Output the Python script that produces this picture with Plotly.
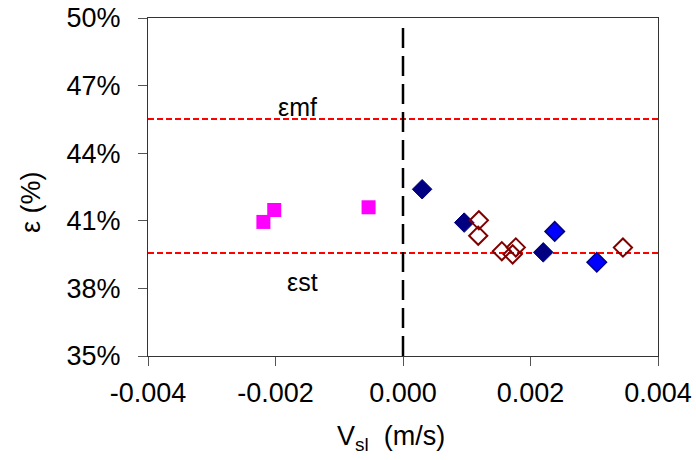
import plotly.graph_objects as go

# ---- data ----
x_tick_vals = [-0.004, -0.002, 0.000, 0.002, 0.004]
x_tick_text = ["-0.004", "-0.002", "0.000", "0.002", "0.004"]
y_tick_vals = [35, 38, 41, 44, 47, 50]
y_tick_text = ["35%", "38%", "41%", "44%", "47%", "50%"]

sq_x = [-0.00219, -0.00202, -0.00054]
sq_y = [40.95, 41.48, 41.60]

navy_x = [0.00030, 0.00096, 0.00220]
navy_y = [42.40, 40.92, 39.60]

blue_x = [0.00238, 0.00304]
blue_y = [40.53, 39.16]

open_x = [0.00119, 0.00118, 0.00155, 0.00177, 0.00172, 0.00345]
open_y = [41.02, 40.34, 39.65, 39.82, 39.51, 39.81]

eps_mf = 45.52
eps_st = 39.57
line_x = [-0.004, 0.004]
zero_x = [0, 0]
zero_y = [35, 49.6]

label_mf = ("εmf", -0.00165, 46.05)
label_st = ("εst", -0.00158, 38.28)
x_title = "V<sub>sl</sub>  (m/s)"
y_title = "ε (%)"

FONT = "Liberation Sans, Arial, sans-serif"

fig = go.Figure()

fig.add_trace(go.Scatter(x=line_x, y=[eps_mf, eps_mf], mode="lines",
                         line=dict(color="#FF0000", width=2, dash="6px,3px"),
                         showlegend=False, hoverinfo="skip"))
fig.add_trace(go.Scatter(x=line_x, y=[eps_st, eps_st], mode="lines",
                         line=dict(color="#FF0000", width=2, dash="6px,3px"),
                         showlegend=False, hoverinfo="skip"))
fig.add_trace(go.Scatter(x=zero_x, y=zero_y, mode="lines",
                         line=dict(color="#000000", width=2.5, dash="20px,8px"),
                         showlegend=False, hoverinfo="skip"))

fig.add_trace(go.Scatter(x=sq_x, y=sq_y, mode="markers",
                         marker=dict(symbol="square", size=14, color="#FF00FF",
                                     line=dict(width=0)),
                         showlegend=False))
fig.add_trace(go.Scatter(x=navy_x, y=navy_y, mode="markers",
                         marker=dict(symbol="diamond", size=15, color="#000080",
                                     line=dict(width=1, color="#000080")),
                         showlegend=False))
fig.add_trace(go.Scatter(x=blue_x, y=blue_y, mode="markers",
                         marker=dict(symbol="diamond", size=15, color="#0000FF",
                                     line=dict(width=1.5, color="#000080")),
                         showlegend=False))
fig.add_trace(go.Scatter(x=open_x, y=open_y, mode="markers",
                         marker=dict(symbol="diamond-open", size=14, color="#800000",
                                     line=dict(width=2, color="#800000")),
                         showlegend=False))

for txt, ax_, ay_ in (label_mf, label_st):
    fig.add_annotation(x=ax_, y=ay_, text=txt, showarrow=False,
                       font=dict(family=FONT, size=25, color="#000000"))

# axis titles
fig.add_annotation(x=0.476, y=-0.2426, xref="paper", yref="paper",
                   xanchor="center", yanchor="middle", showarrow=False,
                   text=x_title, font=dict(family=FONT, size=27, color="#000000"))
fig.add_annotation(x=-0.229, y=0.456, xref="paper", yref="paper",
                   xanchor="center", yanchor="middle", showarrow=False,
                   textangle=-90,
                   text=y_title, font=dict(family=FONT, size=27, color="#000000"))

fig.update_layout(
    width=696, height=460,
    margin=dict(l=148, r=38, t=18, b=104),
    paper_bgcolor="white", plot_bgcolor="white",
    font=dict(family=FONT, size=27, color="#000000"),
    showlegend=False,
)
fig.update_xaxes(
    range=[-0.004, 0.004], tickvals=x_tick_vals, ticktext=x_tick_text,
    showgrid=False, zeroline=False, automargin=False,
    showline=True, linecolor="#333333", linewidth=1, mirror=True,
    ticks="outside", ticklen=9, tickcolor="#555555", tickwidth=1,
    ticklabelstandoff=4,
)
fig.update_yaxes(
    range=[35, 50], tickvals=y_tick_vals, ticktext=y_tick_text,
    showgrid=False, zeroline=False, automargin=False,
    showline=True, linecolor="#333333", linewidth=1, mirror=True,
    ticks="outside", ticklen=9, tickcolor="#555555", tickwidth=1,
    ticklabelstandoff=12,
)

fig.write_html("out.html", config={"displayModeBar": False},
               post_script="document.body.style.margin='0';document.body.style.overflow='hidden';")
